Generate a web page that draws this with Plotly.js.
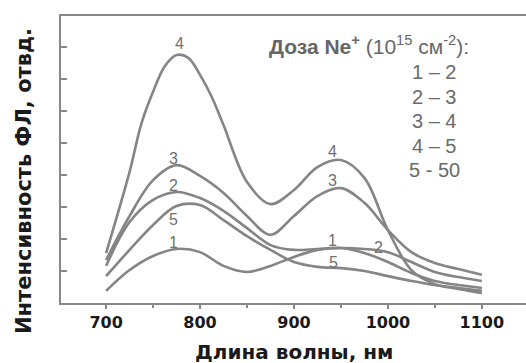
<!DOCTYPE html>
<html>
<head>
<meta charset="utf-8">
<script src="https://cdn.plot.ly/plotly-3.0.1.min.js"></script>
<style>html,body{margin:0;padding:0;background:#fff;}#chart{width:526px;height:363px;}</style>
</head>
<body>
<div id="chart"></div>
<script>
// wavelength, nm
const wavelengths = [700, 725, 750, 775, 800, 825, 850, 875, 900, 925, 950, 975, 1000, 1025, 1050, 1075, 1100];
// denser sampling for the narrow peak of curve 4
const wavelengths4 = [700, 725, 737.5, 750, 762.5, 775, 787.5, 800, 812.5, 825, 850, 875, 900, 925, 950, 975, 1000, 1025, 1050, 1075, 1100];
// PL intensity, arb. units (1 unit = one y tick)
const curve1 = [0.38, 1.03, 1.47, 1.69, 1.59, 1.16, 0.97, 1.16, 1.44, 1.66, 1.72, 1.56, 1.28, 0.94, 0.69, 0.56, 0.47];
const curve2 = [1.16, 2.53, 3.22, 3.47, 3.28, 2.88, 2.34, 1.81, 1.66, 1.69, 1.72, 1.69, 1.59, 1.28, 0.97, 0.81, 0.69];
const curve3 = [1.34, 2.72, 3.84, 4.31, 3.97, 3.44, 2.72, 2.13, 2.72, 3.34, 3.59, 3.13, 2.28, 1.59, 1.25, 1.06, 0.88];
const curve4 = [1.56, 4.1, 5.6, 6.6, 7.4, 7.75, 7.66, 7.13, 6.44, 5.56, 3.78, 3.09, 3.53, 4.25, 4.47, 3.91, 2.28, 1.03, 0.59, 0.44, 0.31];
const curve5 = [0.84, 1.66, 2.44, 3.03, 3.06, 2.59, 2.09, 1.66, 1.28, 1.13, 1.09, 1.00, 0.84, 0.69, 0.56, 0.47, 0.38];
const xTicks = [700, 800, 900, 1000, 1100];
const legendTitle = '<b>Доза Ne<sup>+</sup></b> (10<sup>15</sup> см<sup>-2</sup>):';
const legendItems = ['1 – 2', '2 – 3', '3 – 4', '4 – 5', '5 - 50'];
const xTitle = 'Длина волны, нм';
const yTitle = 'Интенсивность ФЛ, отвд.';

const series = [[wavelengths, curve1], [wavelengths, curve2], [wavelengths, curve3], [wavelengths4, curve4], [wavelengths, curve5]];
const traces = series.map(([xs, ys]) => ({
  x: xs, y: ys, type: 'scatter', mode: 'lines',
  line: {color: '#858585', width: 2.6, shape: 'spline', smoothing: 1},
  hoverinfo: 'skip', showlegend: false
}));

// plot area in pixels
const L = 61, R = 526, T = 16, B = 303;
const px = x => (x - L) / (R - L);
const py = y => (B - y) / (B - T);

const annotations = [];
const lbl = (t, x, y) => annotations.push({text: t, xref: 'paper', yref: 'paper', x: px(x), y: py(y),
  showarrow: false, xanchor: 'center', yanchor: 'middle',
  font: {family: 'Liberation Sans, Arial, sans-serif', size: 16, color: '#707070'}});
lbl('4', 179, 43);
lbl('3', 173, 158);
lbl('2', 173, 185);
lbl('5', 173, 220);
lbl('1', 173, 243);
lbl('4', 332, 151);
lbl('3', 332, 180);
lbl('1', 332, 240);
lbl('2', 378, 247);
lbl('5', 333, 262);

annotations.push({text: legendTitle, xref: 'paper', yref: 'paper', x: px(267), y: py(45),
  showarrow: false, xanchor: 'left', yanchor: 'middle',
  font: {family: 'Liberation Sans, Arial, sans-serif', size: 21, color: '#666'}});
legendItems.forEach((t, i) => annotations.push({text: t, xref: 'paper', yref: 'paper',
  x: px(434), y: py(72 + i * 24.6), showarrow: false, xanchor: 'center', yanchor: 'middle',
  font: {family: 'Liberation Sans, Arial, sans-serif', size: 20, color: '#6a6a6a'}}));

annotations.push({text: '<b>' + xTitle + '</b>', xref: 'paper', yref: 'paper', x: px(294), y: py(352),
  showarrow: false, xanchor: 'center', yanchor: 'middle',
  font: {family: 'DejaVu Sans, sans-serif', size: 20, color: '#1a1a1a'}});
annotations.push({text: '<b>' + yTitle + '</b>', xref: 'paper', yref: 'paper', x: px(24), y: py(181),
  showarrow: false, xanchor: 'center', yanchor: 'middle', textangle: -90,
  font: {family: 'DejaVu Sans, sans-serif', size: 21, color: '#1a1a1a'}});

const layout = {
  width: 526, height: 363,
  margin: {l: L, r: 526 - R, t: T, b: 363 - B, pad: 0},
  paper_bgcolor: '#fff', plot_bgcolor: '#fff',
  xaxis: {
    range: [652, 1147], tickvals: xTicks, ticktext: xTicks.map(String),
    ticks: 'outside', ticklen: 4, tickwidth: 1.5, tickcolor: '#888',
    minor: {dtick: 50, ticks: 'outside', ticklen: 3, tickcolor: '#888'},
    showline: true, linecolor: '#888', linewidth: 2, mirror: true,
    showgrid: false, zeroline: false,
    tickfont: {family: 'DejaVu Sans, sans-serif', size: 16, color: '#1a1a1a', weight: 'bold'}
  },
  yaxis: {
    range: [0, 8.97], dtick: 1, tick0: 0, ticks: 'inside', ticklen: 6, tickwidth: 1.5, tickcolor: '#888',
    showticklabels: false, showline: true, linecolor: '#888', linewidth: 2,
    showgrid: false, zeroline: false
  },
  annotations: annotations
};
Plotly.newPlot('chart', traces, layout, {staticPlot: true, displayModeBar: false});
</script>
</body>
</html>
